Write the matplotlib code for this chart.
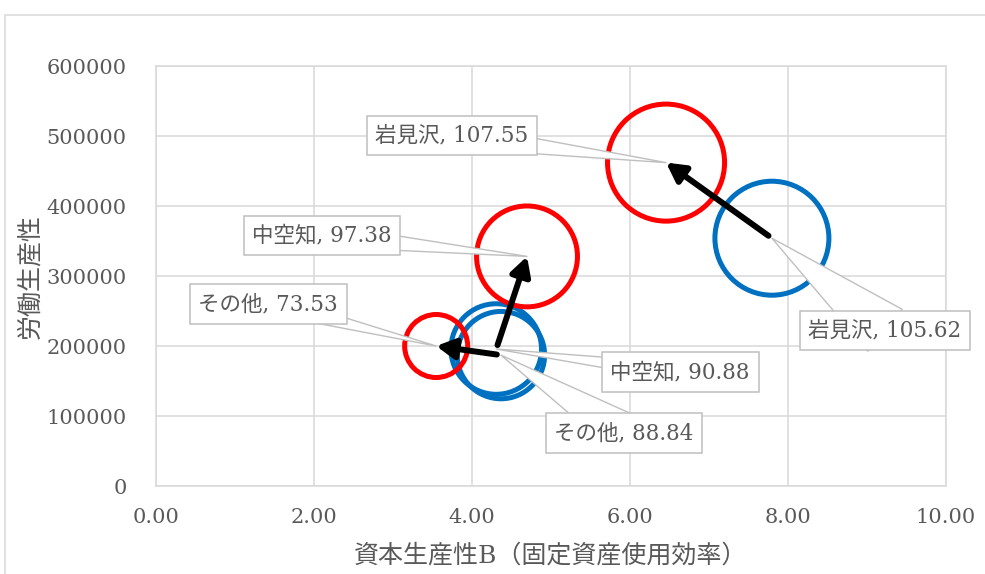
import matplotlib
matplotlib.use("Agg")
import matplotlib.pyplot as plt
from matplotlib.patches import Rectangle

# --- data -----------------------------------------------------------------
names = ["岩見沢", "中空知", "その他"]

# before (blue bubbles)
before_x = [7.80, 4.31, 4.37]
before_y = [354000, 195700, 187000]
before_size = [105.62, 90.88, 88.84]

# after (red bubbles)
after_x = [6.46, 4.70, 3.55]
after_y = [462000, 328000, 200000]
after_size = [107.55, 97.38, 73.53]

x_ticks = [0, 2, 4, 6, 8, 10]
y_ticks = [0, 100000, 200000, 300000, 400000, 500000, 600000]
x_title = "資本生産性B（固定資産使用効率）"
y_title = "労働生産性"

# --- style ------------------------------------------------------------------
DPI = 100
TEXT = "#595959"
GRID = "#d9d9d9"
BOX_EDGE = "#bfbfbf"
BLUE = "#0070c0"
RED = "#ff0000"
RING_PX = 5.0

plt.rcParams["font.family"] = ["DejaVu Serif", "Noto Sans CJK JP"]

# label placement relative to each bubble (pixels) and callout wedge width
before_label_offset = [(113, -92), (184, -23), (123, -78)]
before_wedge = [3.9, 1.3, 3.0]
after_label_offset = [(-214, 27), (-205, 21), (-168, 42)]
after_wedge = [1.8, 1.65, 1.4]


def ring_area(v):
    """Marker area (pt^2) for a bubble value; ring radius grows linearly."""
    r_outer = 0.794 * (v - 30.7)
    d_pt = 2 * (r_outer - RING_PX / 2) * 72 / DPI
    return d_pt ** 2


fig = plt.figure(figsize=(9.85, 5.74), dpi=DPI)
ax = fig.add_axes([0.1581, 0.1533, 0.802, 0.7317])

# outer chart-area border
fig.patches.append(Rectangle((4.5 / 985, -0.5), 2.0, 0.5 + 1 - 14.5 / 574,
                             transform=fig.transFigure, fill=False,
                             ec=GRID, lw=1.1, zorder=0))

ax.set_xlim(0, 10)
ax.set_ylim(0, 600000)
ax.set_xticks(x_ticks)
ax.set_yticks(y_ticks)
ax.set_xticklabels([f"{t:.2f}" for t in x_ticks])
ax.set_yticklabels([f"{t:d}" for t in y_ticks])
ax.tick_params(axis="both", length=0, labelsize=15, colors=TEXT)
ax.tick_params(axis="y", pad=21)
ax.tick_params(axis="x", pad=16)
ax.grid(True, color=GRID, lw=1.1, zorder=0)
ax.set_axisbelow(True)
for s in ax.spines.values():
    s.set_color(GRID)
    s.set_linewidth(1.1)

ax.set_xlabel(x_title, fontsize=18, color=TEXT)
ax.set_ylabel(y_title, fontsize=18, color=TEXT)
ax.xaxis.set_label_coords(0.5, -0.165)
ax.xaxis.label.set_va("center")
ax.yaxis.set_label_coords(-0.159, 0.5)
ax.yaxis.label.set_va("center")

# bubbles
ax.scatter(before_x, before_y, s=[ring_area(v) for v in before_size],
           facecolors="none", edgecolors=BLUE, linewidths=RING_PX * 72 / DPI,
           zorder=3)
ax.scatter(after_x, after_y, s=[ring_area(v) for v in after_size],
           facecolors="none", edgecolors=RED, linewidths=RING_PX * 72 / DPI,
           zorder=3)


def callout(x, y, name, value, offset, wedge):
    # the wedge starts at the text centre; the label box is drawn over it
    ax.annotate(f"{name}, {value:.2f}", xy=(x, y), xytext=offset,
                textcoords="offset pixels", ha="center", va="center",
                fontsize=15.5, color=TEXT, annotation_clip=False, zorder=4,
                bbox=dict(boxstyle="square,pad=0.4", fc="white",
                          ec=BOX_EDGE, lw=1.1),
                arrowprops=dict(arrowstyle=f"wedge,tail_width={wedge},shrink_factor=0.5",
                                fc="white", ec=BOX_EDGE, lw=1.0, patchA=None,
                                mutation_scale=10, shrinkA=0, shrinkB=0))


for i, n in enumerate(names):
    callout(after_x[i], after_y[i], n, after_size[i], after_label_offset[i], after_wedge[i])
    callout(before_x[i], before_y[i], n, before_size[i], before_label_offset[i], before_wedge[i])

# movement arrows (before -> after)
for bx, by, ax_, ay in zip(before_x, before_y, after_x, after_y):
    ax.annotate("", xy=(ax_, ay), xytext=(bx, by), zorder=6,
                arrowprops=dict(arrowstyle="-|>,head_length=0.55,head_width=0.3",
                                lw=4.3, color="black", shrinkA=3, shrinkB=0,
                                mutation_scale=20))

fig.savefig("out.png", dpi=DPI)
